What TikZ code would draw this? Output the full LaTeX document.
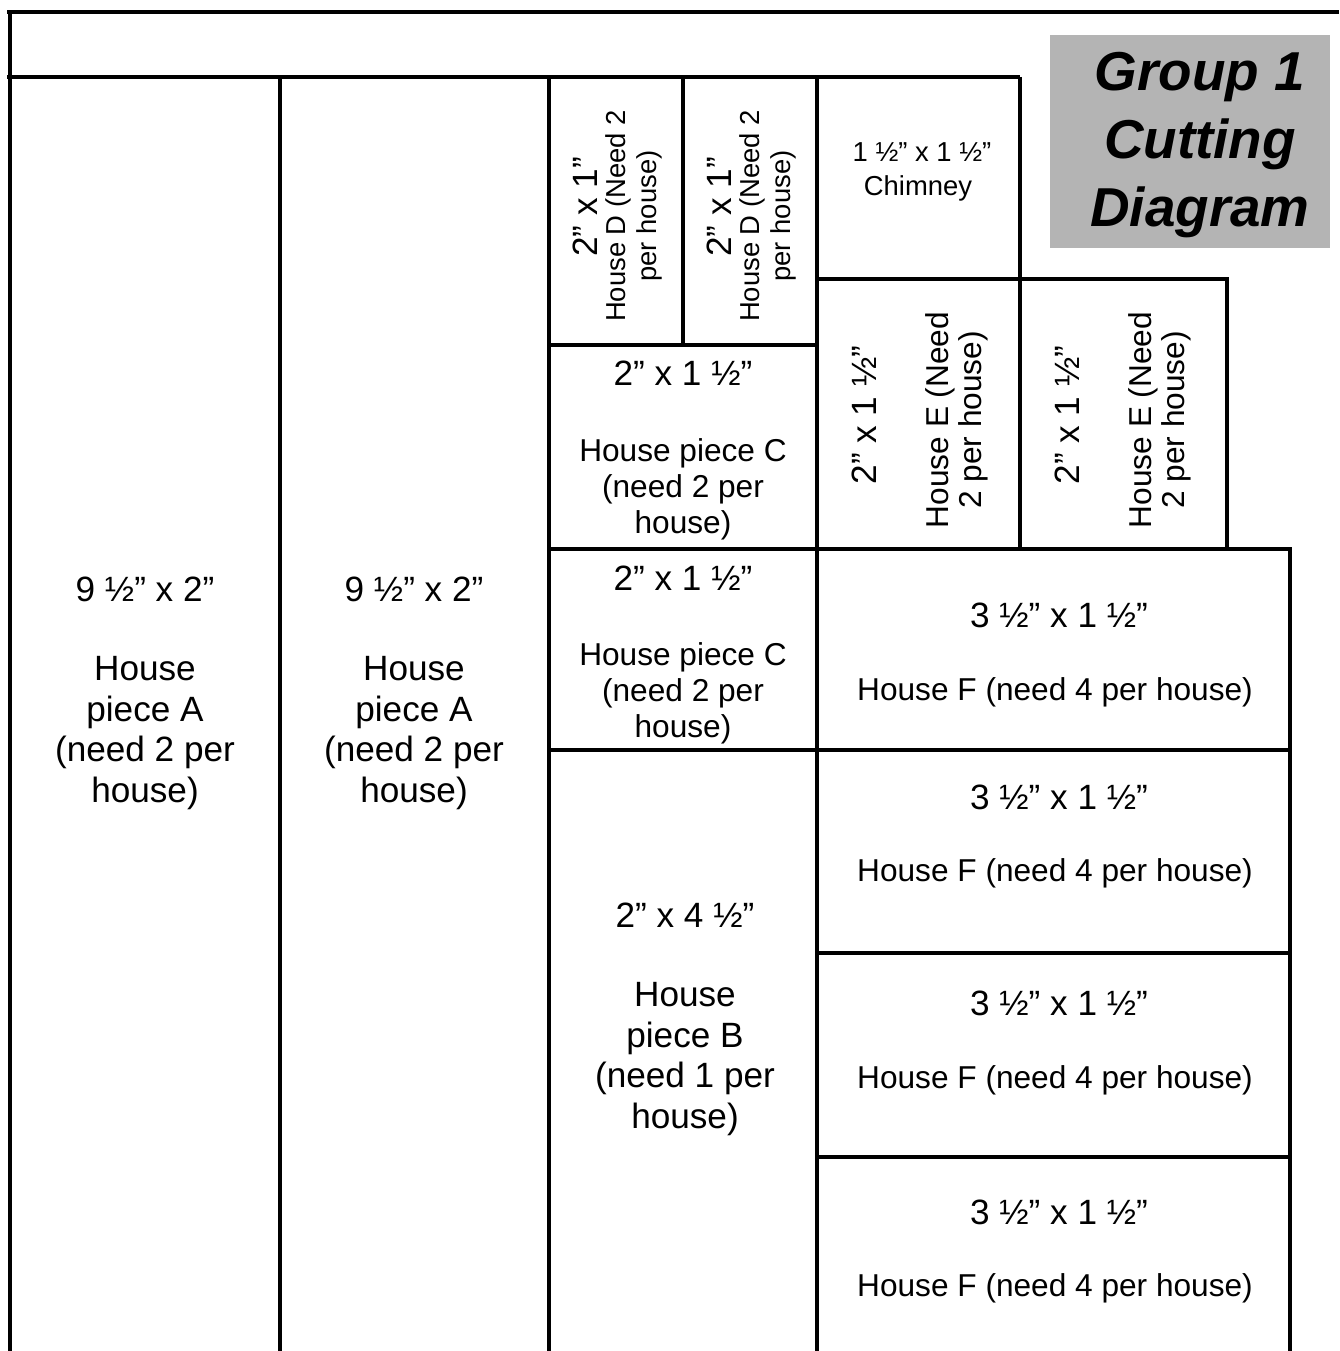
\documentclass[tikz,border=0pt]{standalone}
\usepackage{fontspec}
\setmainfont{Liberation Sans}
\definecolor{titlegray}{RGB}{180,180,180}
\begin{document}
\begin{tikzpicture}[x=0.1mm,y=-0.1mm]
\tikzset{ inner sep=0pt, outer sep=0pt,
  cut/.style={line width=1.4pt},
  bigtxt/.style={font=\fontsize{10}{11.5}\selectfont, align=center},
  desctxt/.style={font=\fontsize{9}{10.2}\selectfont, align=center},
  narrowtxt/.style={font=\fontsize{9}{9.5}\selectfont, align=center},
  tinytxt/.style={font=\fontsize{7.8}{8.8}\selectfont, align=center},
  titletxt/.style={font=\fontsize{15.6}{19.3}\selectfont\bfseries\itshape, align=center},
}
\useasboundingbox (0,0) rectangle (1339,1351);

%\draw [lightgray, dashed](0,0) grid (1339,1351);

\fill [titlegray] (1050,35) rectangle (1330,248);

\draw [cut] (7,12) -- (1339,12);
\draw [cut] (10,12) -- (10,1351);
\draw [cut] (7,77) -- (1020,77);

\draw [cut] (280,77)  -- (280,1351);
\draw [cut] (549,77)  -- (549,1351);
\draw [cut] (683,77)  -- (683,345);
\draw [cut] (817,77)  -- (817,1351);
\draw [cut] (1020,77) -- (1020,549);

\draw [cut] (549,345)  -- (817,345);
\draw [cut] (817,279)  -- (1227,279) -- (1227,549);
\draw [cut] (549,549)  -- (1290,549) -- (1290,1351);
\draw [cut] (549,750)  -- (1290,750);
\draw [cut] (817,953)  -- (1290,953);
\draw [cut] (817,1157) -- (1290,1157);

\node [titletxt] (title) at (1200,145) {Group 1\\Cutting\\Diagram};

\node [bigtxt] (a1dim) at (145,589) {9 ½” x 2”};
\node [bigtxt] (a1txt) at (145,733) {House\\piece A\\(need 2 per\\house)};
\node [bigtxt] (a2dim) at (414,589) {9 ½” x 2”};
\node [bigtxt] (a2txt) at (414,733) {House\\piece A\\(need 2 per\\house)};

\node [bigtxt, rotate=90] (d1dim) at (585,207) {2” x 1”};
\node [tinytxt, rotate=90] (d1txt) at (634,216) {House D (Need 2\\per house)};
\node [bigtxt, rotate=90] (d2dim) at (719,207) {2” x 1”};
\node [tinytxt, rotate=90] (d2txt) at (768,216) {House D (Need 2\\per house)};

\node [tinytxt] (chimdim) at (922,152) {1 ½” x 1 ½”};
\node [tinytxt] (chimtxt) at (918,188) {Chimney};

\node [bigtxt, rotate=90] (e1dim) at (864,415) {2” x 1 ½”};
\node [narrowtxt, rotate=90] (e1txt) at (957,420) {House E (Need\\2 per house)};
\node [bigtxt, rotate=90] (e2dim) at (1067,415) {2” x 1 ½”};
\node [narrowtxt, rotate=90] (e2txt) at (1160,420) {House E (Need\\2 per house)};

\node [bigtxt] (c1dim) at (683,373) {2” x 1 ½”};
\node [desctxt] (c1txt) at (683,489) {House piece C\\(need 2 per\\house)};
\node [bigtxt] (c2dim) at (683,578) {2” x 1 ½”};
\node [desctxt] (c2txt) at (683,693) {House piece C\\(need 2 per\\house)};

\node [bigtxt] (bdim) at (685,915) {2” x 4 ½”};
\node [bigtxt] (btxt) at (685,1059) {House\\piece B\\(need 1 per\\house)};

\node [bigtxt] (f1dim) at (1059,615)  {3 ½” x 1 ½”};
\node [desctxt] (f1txt) at (1055,692)  {House F (need 4 per house)};
\node [bigtxt] (f2dim) at (1059,797)  {3 ½” x 1 ½”};
\node [desctxt] (f2txt) at (1055,873)  {House F (need 4 per house)};
\node [bigtxt] (f3dim) at (1059,1003) {3 ½” x 1 ½”};
\node [desctxt] (f3txt) at (1055,1080) {House F (need 4 per house)};
\node [bigtxt] (f4dim) at (1059,1212) {3 ½” x 1 ½”};
\node [desctxt] (f4txt) at (1055,1288) {House F (need 4 per house)};

\end{tikzpicture}
\end{document}
